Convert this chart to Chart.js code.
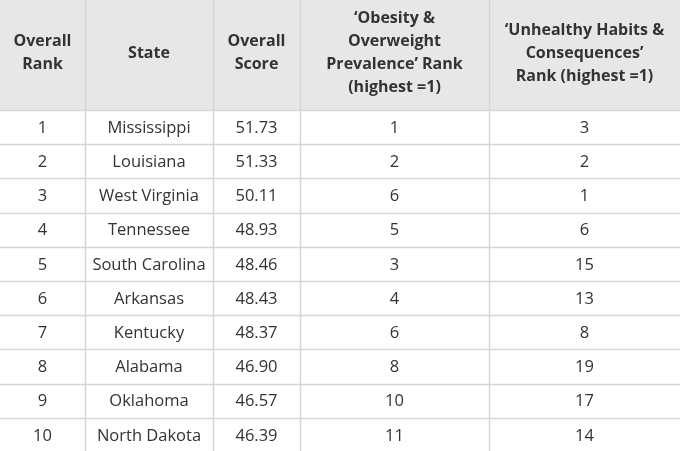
<!DOCTYPE html>
<html><head><meta charset="utf-8">
<script src="https://cdn.jsdelivr.net/npm/chart.js@4/dist/chart.umd.min.js"></script>
<style>html,body{margin:0;padding:0;background:#fff}canvas{display:block}</style>
</head><body>
<canvas id="c" width="680" height="451"></canvas>
<script>
const headers = [
  ["Overall", "Rank"],
  ["State"],
  ["Overall", "Score"],
  ["\u2018Obesity &", "Overweight", "Prevalence\u2019 Rank", "(highest =1)"],
  ["\u2018Unhealthy Habits &", "Consequences\u2019", "Rank (highest =1)"]
];
const overallRank = [1, 2, 3, 4, 5, 6, 7, 8, 9, 10];
const states = ["Mississippi", "Louisiana", "West Virginia", "Tennessee", "South Carolina", "Arkansas", "Kentucky", "Alabama", "Oklahoma", "North Dakota"];
const overallScore = ["51.73", "51.33", "50.11", "48.93", "48.46", "48.43", "48.37", "46.90", "46.57", "46.39"];
const obesityRank = [1, 2, 6, 5, 3, 4, 6, 8, 10, 11];
const habitsRank = [3, 2, 1, 6, 15, 13, 8, 19, 17, 14];

// layout (in scale units)
const colEdges = [0, 85, 213, 300, 489, 680];
const headerH = 110;
const rowH = 34.2;
const FONT = "'Open Sans', sans-serif";

const columns = [overallRank, states, overallScore, obesityRank, habitsRank];

const tablePlugin = {
  id: 'table',
  beforeDraw(chart) {
    const ctx = chart.ctx;
    const xs = chart.scales.x, ys = chart.scales.y;
    const X = v => xs.getPixelForValue(v);
    const Y = v => ys.getPixelForValue(v);
    ctx.save();
    ctx.fillStyle = '#fff';
    ctx.fillRect(0, 0, chart.width, chart.height);
    ctx.fillStyle = '#e7e7e7';
    ctx.fillRect(X(0), Y(0), X(680) - X(0), Y(headerH) - Y(0));
    ctx.strokeStyle = '#d6d6d6';
    ctx.lineWidth = 1.5;
    const nRows = states.length;
    for (let i = 0; i < nRows; i++) {
      const yy = Math.round(Y(headerH + i * rowH)) + 0.5;
      ctx.beginPath(); ctx.moveTo(X(0), yy); ctx.lineTo(X(680), yy); ctx.stroke();
    }
    for (let j = 1; j < colEdges.length - 1; j++) {
      const xx = Math.round(X(colEdges[j])) + 0.5;
      ctx.beginPath(); ctx.moveTo(xx, Y(0)); ctx.lineTo(xx, Y(451)); ctx.stroke();
    }
    ctx.textAlign = 'center';
    ctx.textBaseline = 'middle';
    ctx.fillStyle = '#333';
    ctx.font = "bold 16px " + FONT;
    const lh = 23;
    headers.forEach((lines, j) => {
      const cx = X((colEdges[j] + colEdges[j + 1]) / 2);
      const cy = Y(53);
      const start = cy - (lines.length - 1) * lh / 2;
      lines.forEach((t, k) => ctx.fillText(t, cx, start + k * lh));
    });
    ctx.font = "16.5px " + FONT;
    ctx.fillStyle = '#333';
    columns.forEach((col, j) => {
      const cx = X((colEdges[j] + colEdges[j + 1]) / 2);
      col.forEach((v, i) => {
        const cy = Y(headerH + i * rowH + rowH / 2);
        ctx.fillText(String(v), cx, cy + 1);
      });
    });
    ctx.restore();
  }
};

new Chart(document.getElementById('c'), {
  type: 'scatter',
  data: { datasets: [{ data: [], pointRadius: 0 }] },
  options: {
    responsive: false,
    animation: false,
    layout: { padding: 0 },
    plugins: { legend: { display: false }, tooltip: { enabled: false } },
    scales: {
      x: { type: 'linear', min: 0, max: 680, display: false },
      y: { type: 'linear', min: 0, max: 451, reverse: true, display: false }
    }
  },
  plugins: [tablePlugin]
});
</script>
</body></html>
